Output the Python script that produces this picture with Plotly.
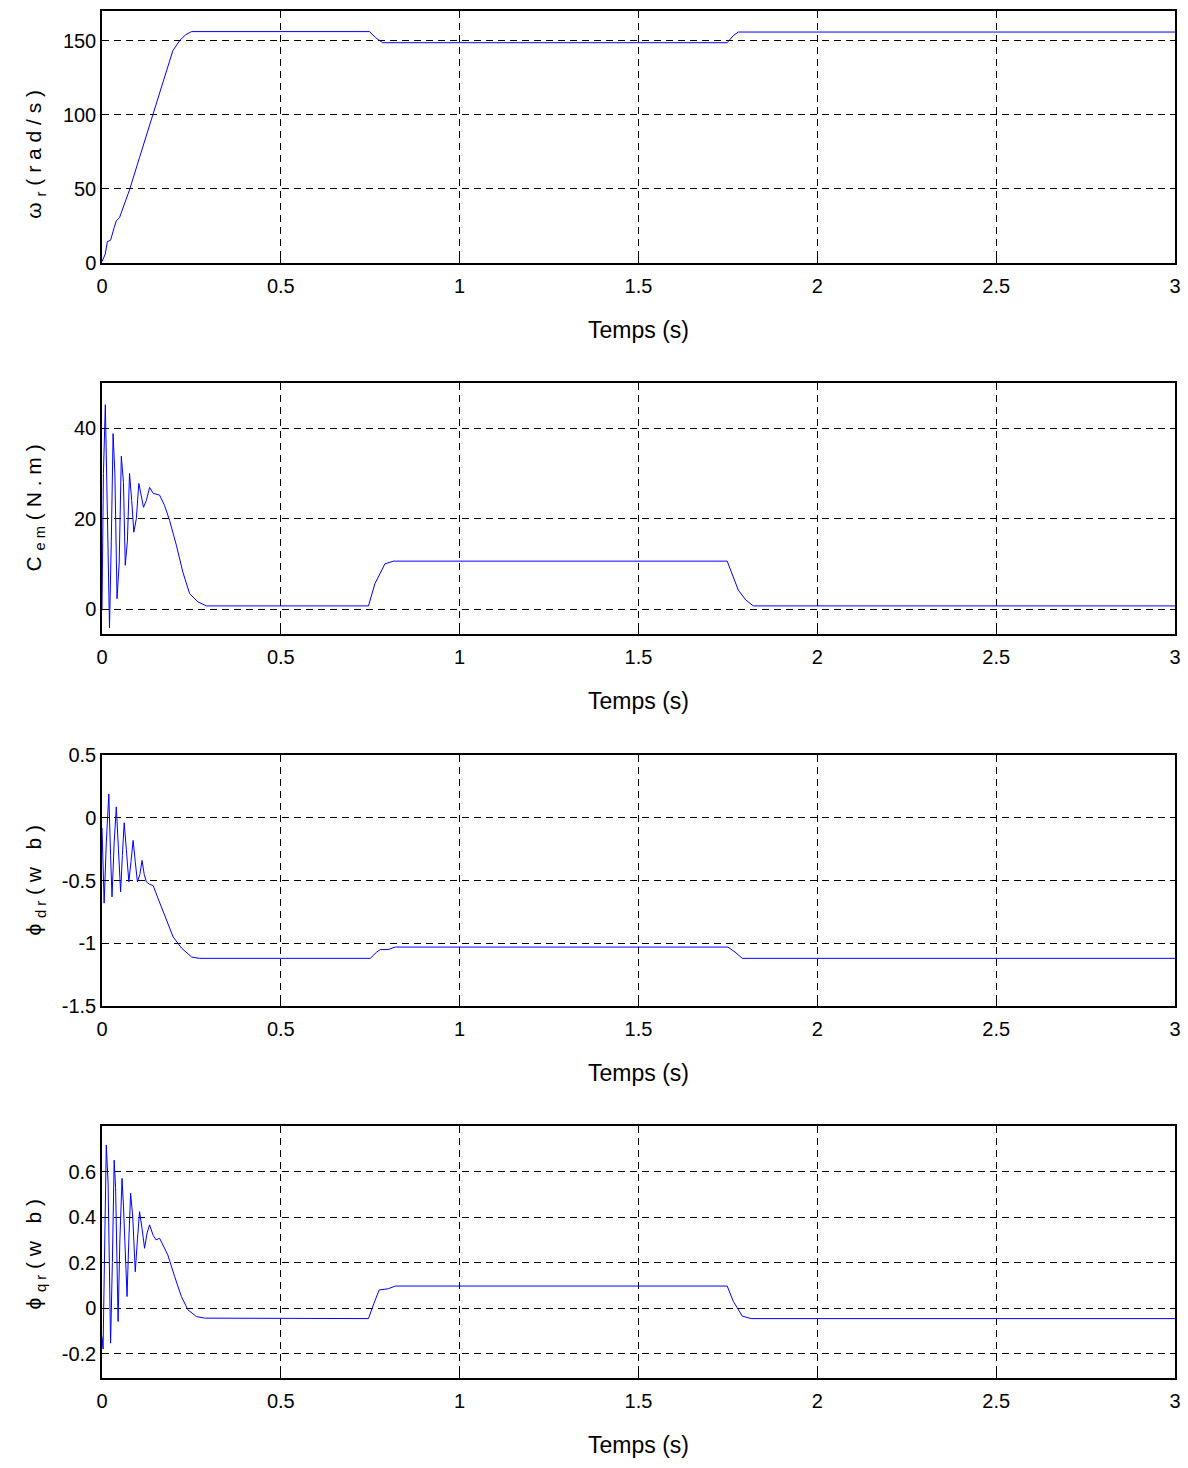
import plotly.graph_objects as go
from plotly.subplots import make_subplots

# ---------------- data ----------------
t_w = [0, 0.009, 0.015, 0.024, 0.034, 0.040, 0.049, 0.077, 0.105, 0.141, 0.175, 0.198,
       0.217, 0.233, 0.250, 0.748, 0.765, 0.785, 1.748, 1.765, 1.779, 3.0]
w_r = [0.9, 5.9, 14.4, 15.3, 23.9, 28.4, 30.6, 49.3, 71.2, 99.3, 126.4, 143.2,
       150.0, 153.8, 156.1, 156.1, 152.0, 148.6, 148.6, 153.4, 155.8, 155.8]

t_c = [0, 0.004, 0.0093, 0.015, 0.021, 0.026, 0.031, 0.036, 0.042, 0.048, 0.054, 0.060,
       0.065, 0.071, 0.077, 0.083, 0.089, 0.096, 0.103, 0.110, 0.116, 0.124, 0.133, 0.143,
       0.161, 0.175, 0.189, 0.208, 0.226, 0.245, 0.268, 0.292, 0.745, 0.763, 0.791, 0.815,
       1.748, 1.779, 1.800, 1.821, 3.0]
c_em = [0, 30, 45.2, 20, -4.2, 15, 38.8, 30, 2.3, 10, 33.8, 28,
        9.7, 15, 30, 24, 17, 20, 27.8, 25, 22.5, 24, 26.9, 25.6,
        25.2, 22.9, 19.6, 14.1, 8.2, 3.4, 1.6, 0.7, 0.7, 5.6, 10.0, 10.6,
        10.6, 4.2, 2.0, 0.7, 0.7]

t_d = [0, 0.006, 0.012, 0.019, 0.024, 0.028, 0.034, 0.040, 0.046, 0.052, 0.057, 0.062,
       0.068, 0.075, 0.081, 0.087, 0.093, 0.099, 0.106, 0.112, 0.118, 0.124, 0.133, 0.143,
       0.157, 0.162, 0.181, 0.199, 0.223, 0.251, 0.272, 0.750, 0.768, 0.778, 0.800, 0.820,
       1.750, 1.770, 1.790, 3.0]
phi_dr = [-0.08, -0.68, -0.2, 0.19, -0.3, -0.63, -0.2, 0.087, -0.25, -0.59, -0.3, -0.04,
          -0.25, -0.51, -0.35, -0.18, -0.35, -0.51, -0.45, -0.34, -0.45, -0.51, -0.53, -0.54,
          -0.645, -0.68, -0.82, -0.95, -1.04, -1.11, -1.12, -1.12, -1.07, -1.05, -1.05, -1.03,
          -1.03, -1.07, -1.12, -1.12]

t_q = [0, 0.003, 0.006, 0.012, 0.017, 0.020, 0.024, 0.029, 0.034, 0.038, 0.042, 0.045,
       0.050, 0.056, 0.060, 0.065, 0.070, 0.075, 0.080, 0.086, 0.093, 0.099, 0.105, 0.112,
       0.119, 0.126, 0.133, 0.143, 0.151, 0.161, 0.184, 0.203, 0.222, 0.240, 0.264, 0.287,
       0.745, 0.760, 0.775, 0.800, 0.820, 1.748, 1.765, 1.790, 1.815, 3.0]
phi_qr = [-0.125, -0.18, 0.124, 0.717, 0.55, 0.2, -0.154, 0.2, 0.65, 0.53, 0.2, -0.059,
          0.3, 0.57, 0.45, 0.2, 0.051, 0.3, 0.505, 0.4, 0.16, 0.3, 0.424, 0.35,
          0.263, 0.33, 0.366, 0.32, 0.30, 0.307, 0.234, 0.139, 0.051, -0.007, -0.037, -0.044,
          -0.046, 0.02, 0.08, 0.085, 0.097, 0.097, 0.03, -0.035, -0.046, -0.046]

x_ticks = [0, 0.5, 1, 1.5, 2, 2.5, 3]
x_tick_text = ["0", "0.5", "1", "1.5", "2", "2.5", "3"]
y_ticks = [[0, 50, 100, 150], [0, 20, 40], [-1.5, -1, -0.5, 0, 0.5], [-0.2, 0, 0.2, 0.4, 0.6]]
y_tick_text = [["0", "50", "100", "150"], ["0", "20", "40"],
               ["-1.5", "-1", "-0.5", "0", "0.5"], ["-0.2", "0", "0.2", "0.4", "0.6"]]
y_ranges = [[0, 170], [-5.5, 50], [-1.5, 0.5], [-0.307, 0.8]]
y_titles = ["ω <sub>r</sub> ( r a d / s )", "C <sub>e m</sub> ( N . m )",
            "ϕ <sub>d r</sub> ( w   b )", "ϕ <sub>q r</sub> ( w   b )"]
y_title_pos = [0.43, 0.5, 0.5, 0.49]
x_title = "Temps (s)"

series = [(t_w, w_r), (t_c, c_em), (t_d, phi_dr), (t_q, phi_qr)]

# ---------------- figure ----------------
FAMILY = "Liberation Sans Narrow, Arial Narrow, Liberation Sans, Arial, sans-serif"
TICK_FONT = dict(family=FAMILY, size=20, color="black")

fig = make_subplots(rows=4, cols=1, vertical_spacing=0.0)
domains = [[0.8157, 1.0], [0.5443, 0.7279], [0.2721, 0.4557], [0.0, 0.1843]]

for i, (tx, vy) in enumerate(series):
    r = i + 1
    fig.add_trace(go.Scatter(x=tx, y=vy, mode="lines",
                             line=dict(color="#0000ff", width=1), showlegend=False),
                  row=r, col=1)
    fig.update_xaxes(row=r, col=1, range=[0, 3], tickvals=x_ticks, ticktext=x_tick_text,
                     showgrid=True, gridcolor="black", griddash="7px,5px", gridwidth=1,
                     showline=True, linecolor="black", linewidth=1.5, mirror=True,
                     ticks="inside", ticklen=5, tickcolor="black", zeroline=False,
                     tickfont=TICK_FONT, ticklabelstandoff=4, automargin=False)
    fig.update_yaxes(row=r, col=1, range=y_ranges[i], tickvals=y_ticks[i],
                     ticktext=y_tick_text[i], domain=domains[i],
                     showgrid=True, gridcolor="black", griddash="7px,5px", gridwidth=1,
                     showline=True, linecolor="black", linewidth=1.5, mirror=True,
                     ticks="inside", ticklen=5, tickcolor="black", zeroline=False,
                     tickfont=TICK_FONT, ticklabelstandoff=0, automargin=False)
    yref = "y domain" if r == 1 else f"y{r} domain"
    xref = "x domain" if r == 1 else f"x{r} domain"
    fig.add_annotation(text=x_title, xref=xref, yref=yref, x=0.5, y=-0.266,
                       showarrow=False, xanchor="center", yanchor="middle",
                       font=dict(family=FAMILY, size=23, color="black"))
    fig.add_annotation(text=y_titles[i], xref="paper", yref=yref, x=-0.0624,
                       y=y_title_pos[i], textangle=-90, showarrow=False,
                       xanchor="center", yanchor="middle",
                       font=dict(family="Liberation Sans, Arial, sans-serif", size=21,
                                 color="black"))

fig.update_layout(width=1188, height=1468, plot_bgcolor="white", paper_bgcolor="white",
                  margin=dict(l=102, r=13, t=11, b=90))

fig.write_html("out.html")
